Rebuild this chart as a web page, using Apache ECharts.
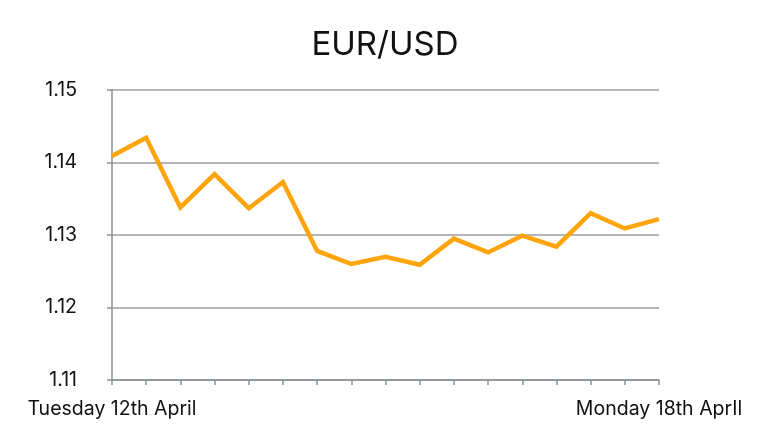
<!DOCTYPE html>
<html>
<head>
<meta charset="utf-8">
<script src="https://cdn.jsdelivr.net/npm/echarts@6/dist/echarts.min.js"></script>
<style>
html,body{margin:0;padding:0;background:#fff;}
#chart{width:770px;height:441px;}
</style>
</head>
<body>
<div id="chart"></div>
<script>
const categories = ["Tuesday 12th April","","","","","","","","","","","","","","","","Monday 18th AprIl"];
const rates = [1.1409,1.1434,1.1338,1.1384,1.1337,1.1373,1.1278,1.1260,1.1270,1.1259,1.1295,1.1276,1.1299,1.1284,1.1330,1.1309,1.1322];
const yTicks = [1.11,1.12,1.13,1.14,1.15];

const chart = echarts.init(document.getElementById('chart'));
chart.setOption({
  animation:false,
  backgroundColor:'#ffffff',
  title:{
    text:'EUR/USD',
    left:'center',
    top:24,
    textStyle:{fontFamily:'Inter',fontSize:33,fontWeight:'normal',color:'#111111'}
  },
  grid:{left:112,right:111,top:90,bottom:61,containLabel:false},
  xAxis:{
    type:'category',
    data:categories,
    boundaryGap:false,
    axisLine:{lineStyle:{color:'#8c9196',width:1.5}},
    axisTick:{show:true,interval:0,length:5,lineStyle:{color:'#8c9196',width:1.5}},
    axisLabel:{
      interval:0,
      fontFamily:'Inter',fontSize:19.5,color:'#111111',margin:19
    },
    splitLine:{show:false}
  },
  yAxis:{
    type:'value',
    min:yTicks[0],
    max:yTicks[yTicks.length-1],
    interval:0.01,
    axisLine:{show:true,lineStyle:{color:'#8c9196',width:1.5}},
    axisTick:{show:true,length:5,lineStyle:{color:'#8c9196',width:1.5}},
    axisLabel:{
      fontFamily:'Inter',fontSize:19.5,color:'#111111',margin:35,
      formatter:function(v){return v.toFixed(2);}
    },
    splitLine:{show:true,lineStyle:{color:'#9a9ea2',width:1.5}}
  },
  series:[{
    type:'line',
    data:rates,
    showSymbol:false,
    symbol:'none',
    lineStyle:{color:'#FFA50A',width:4.5,join:'miter'},
    itemStyle:{color:'#FFA50A'}
  }]
});
</script>
</body>
</html>
